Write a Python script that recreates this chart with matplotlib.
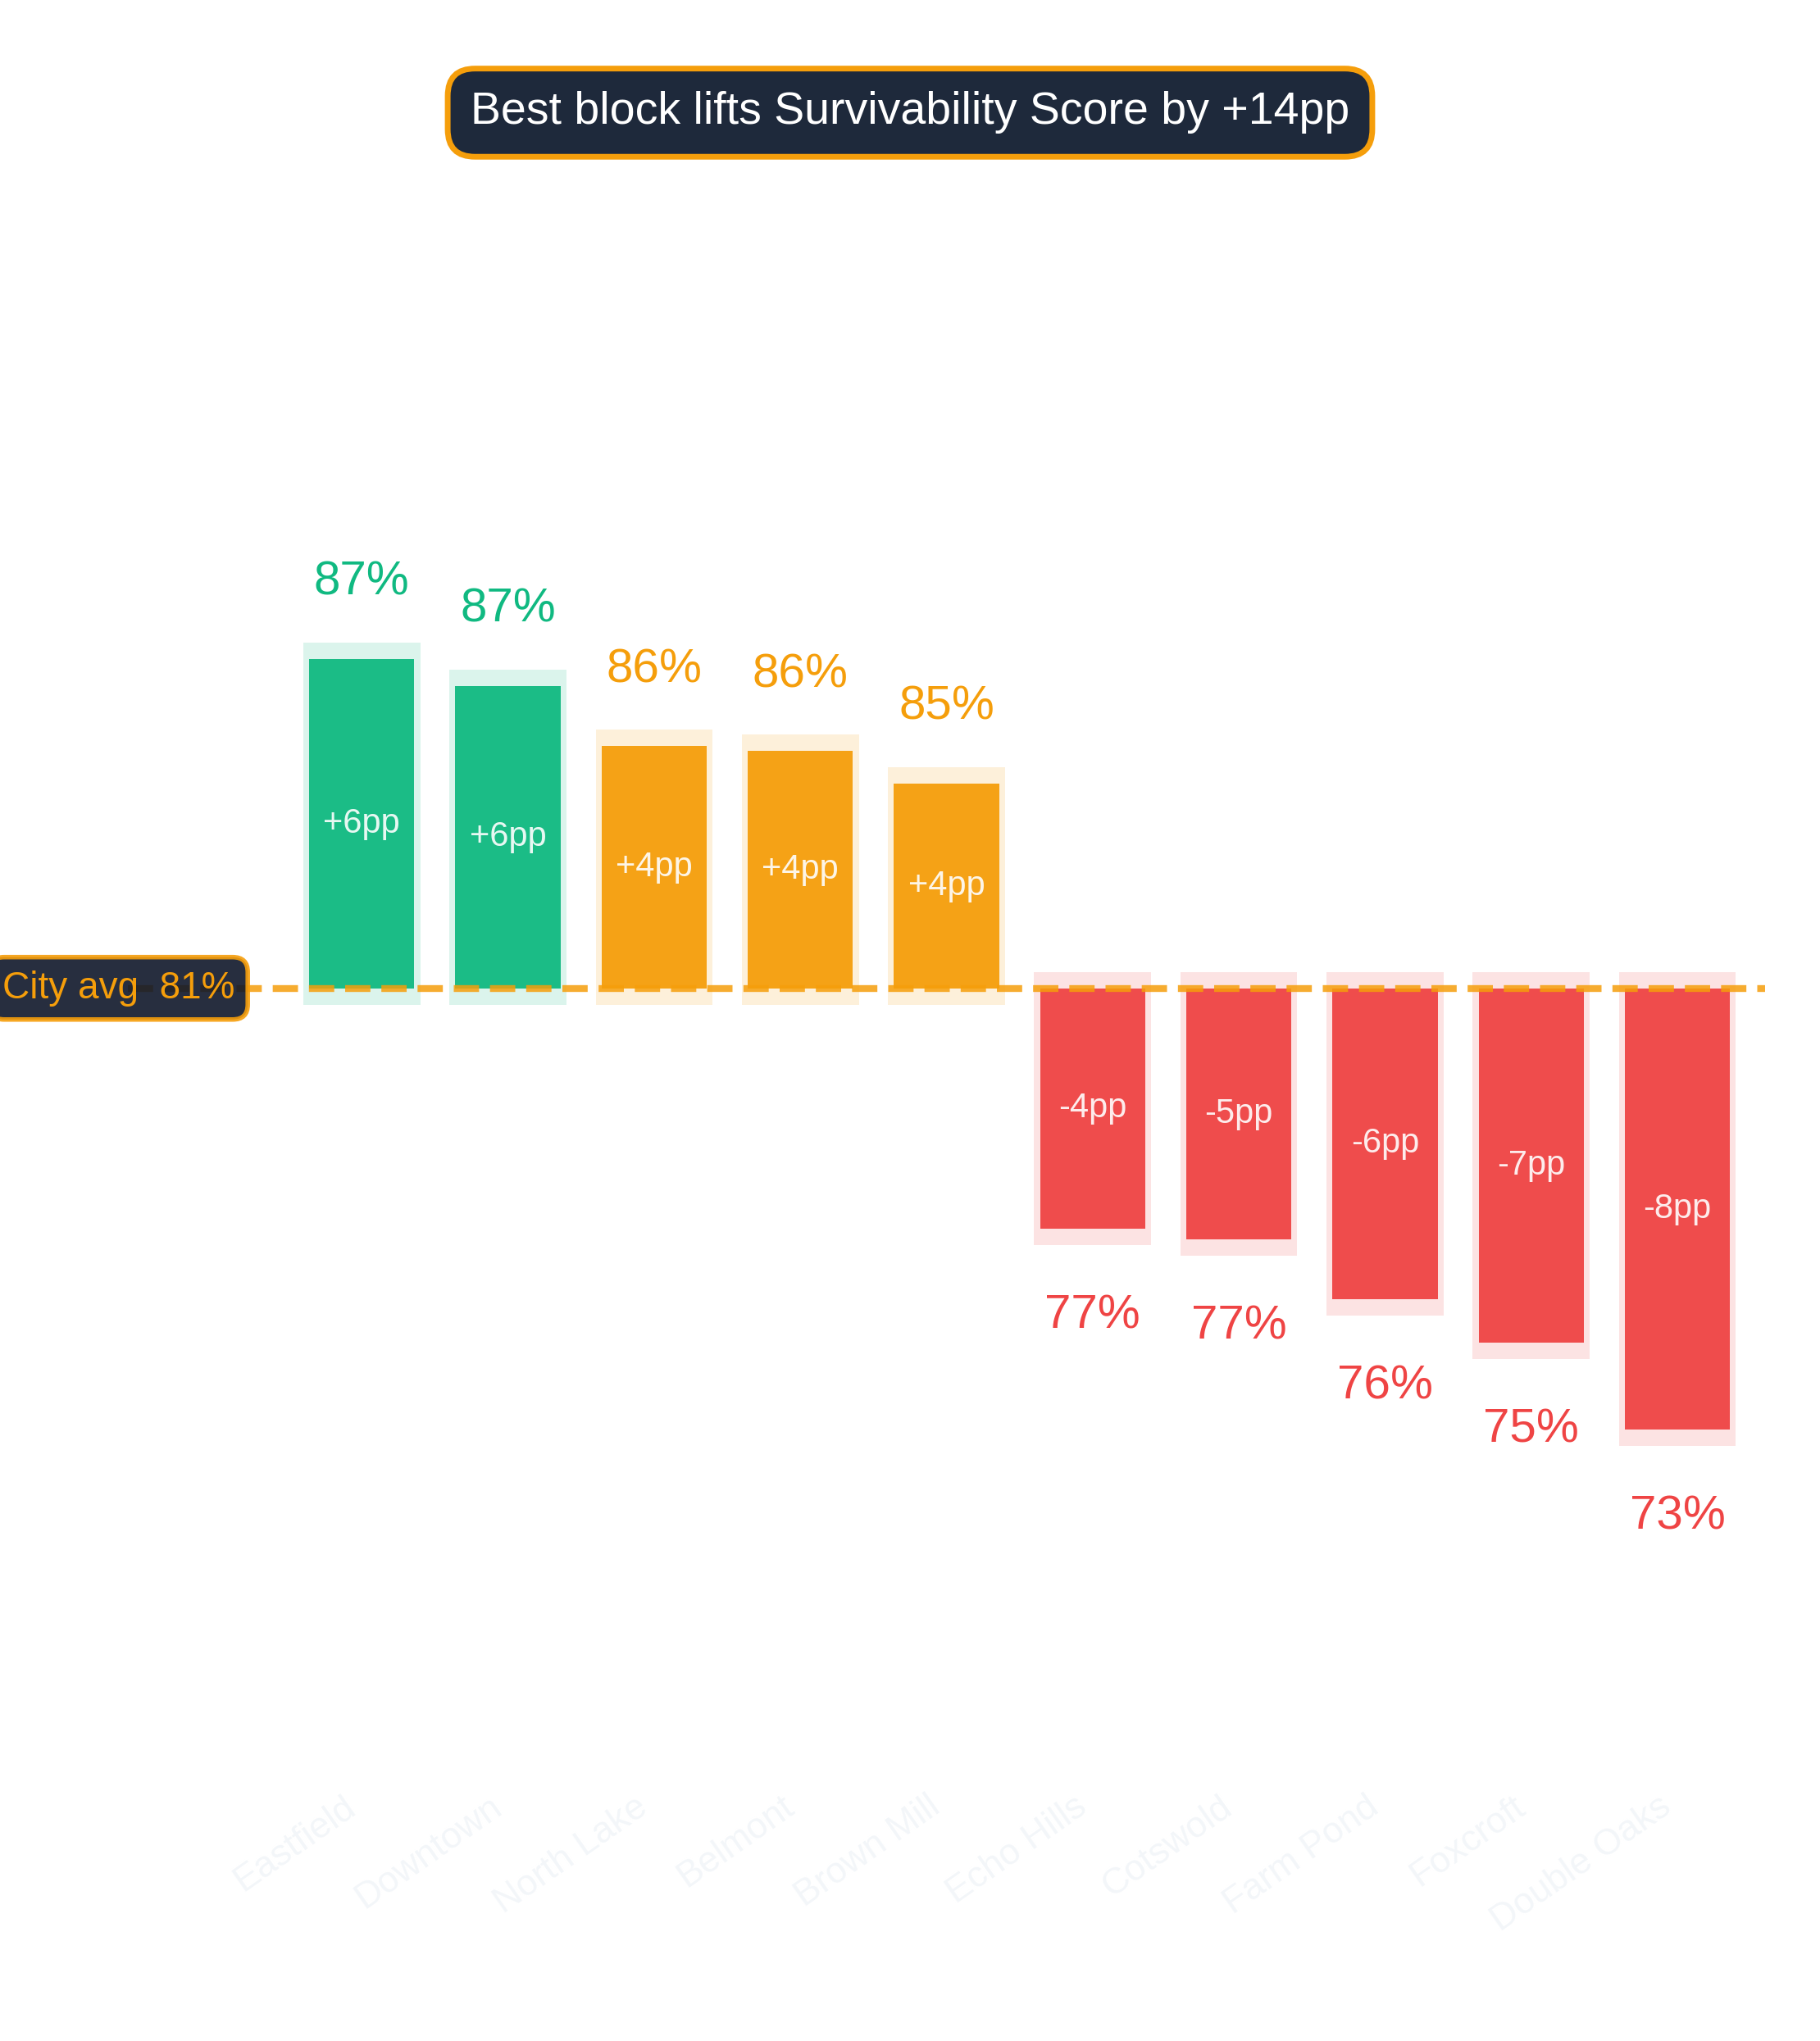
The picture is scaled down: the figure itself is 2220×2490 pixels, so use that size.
import numpy as np
import matplotlib
matplotlib.use("Agg")
import matplotlib.pyplot as plt

plt.rcParams['font.family'] = ['Liberation Sans', 'DejaVu Sans']

# ---- data ----
neighborhoods = ["Eastfield", "Downtown", "North Lake", "Belmont", "Brown Mill",
                 "Echo Hills", "Cotswold", "Farm Pond", "Foxcroft", "Double Oaks"]
scores = [87.38, 86.88, 85.77, 85.68, 85.08, 76.86, 76.67, 75.56, 74.76, 73.16]
city_avg = 81.3
metric_name = "Survivability Score"

# ---- styling ----
GREEN = "#10B981"
AMBER = "#F59E0B"
RED = "#EF4444"
NAVY = "#1E293B"
NAVY_DARK = "#0F172A"

scores = np.array(scores)
deltas = scores - city_avg
x = np.arange(len(neighborhoods))
colors = [GREEN if d > 5 else (AMBER if d > 0 else RED) for d in deltas]
sign = np.sign(deltas)

fig = plt.figure(figsize=(11.1, 12.45), dpi=200)
ax = fig.add_axes([0.07027, 0.13085, 0.89955, 0.77515])

pad = 0.3
# soft background bars
ax.bar(x, deltas + sign * 2 * pad, bottom=city_avg - sign * pad, width=0.8,
       color=colors, alpha=0.15, zorder=1, linewidth=0)
# main bars
ax.bar(x, deltas, bottom=city_avg, width=0.72, color=colors, alpha=0.95,
       zorder=2, linewidth=0)

# average line
ax.axhline(city_avg, color=AMBER, alpha=0.85, lw=3, ls="--", zorder=3)

for xi, s, d, c in zip(x, scores, deltas, colors):
    if d >= 0:
        ax.text(xi, s + 1.0, f"{s:.0f}%", ha="center", va="bottom",
                fontsize=21, color=c, zorder=4)
    else:
        ax.text(xi, s - 1.2, f"{s:.0f}%", ha="center", va="top",
                fontsize=21, color=c, zorder=4)
    ax.text(xi, city_avg + d / 2, f"{d:+.0f}pp", ha="center", va="center",
            fontsize=15, color="white", alpha=0.9, zorder=4)

# city average label
ax.text(-0.87, city_avg, f"City avg  {city_avg:.0f}%", ha="right", va="center",
        fontsize=16.5, color=AMBER, zorder=5, clip_on=False,
        bbox=dict(boxstyle="round,pad=0.35,rounding_size=0.4", fc=NAVY_DARK,
                  ec=AMBER, lw=2, alpha=0.9))

ax.set_xlim(-1.6, 9.6)
ax.set_ylim(66.8, 96.0)
ax.set_xticks(x)
ax.set_xticklabels(neighborhoods, rotation=35, ha="right",
                   fontsize=16, color="#F3F6F9")
ax.tick_params(axis="x", length=0, pad=7)
ax.set_yticks([])
for sp in ax.spines.values():
    sp.set_visible(False)

spread = scores.max() - scores.min()
fig.text(0.5, 0.9448, f"Best block lifts {metric_name} by +{spread:.0f}pp",
         ha="center", va="center", fontsize=20, color="white",
         bbox=dict(boxstyle="round,pad=0.5,rounding_size=0.6", fc=NAVY,
                   ec=AMBER, lw=2.5))

fig.savefig("out.png", dpi=200, facecolor="white")
